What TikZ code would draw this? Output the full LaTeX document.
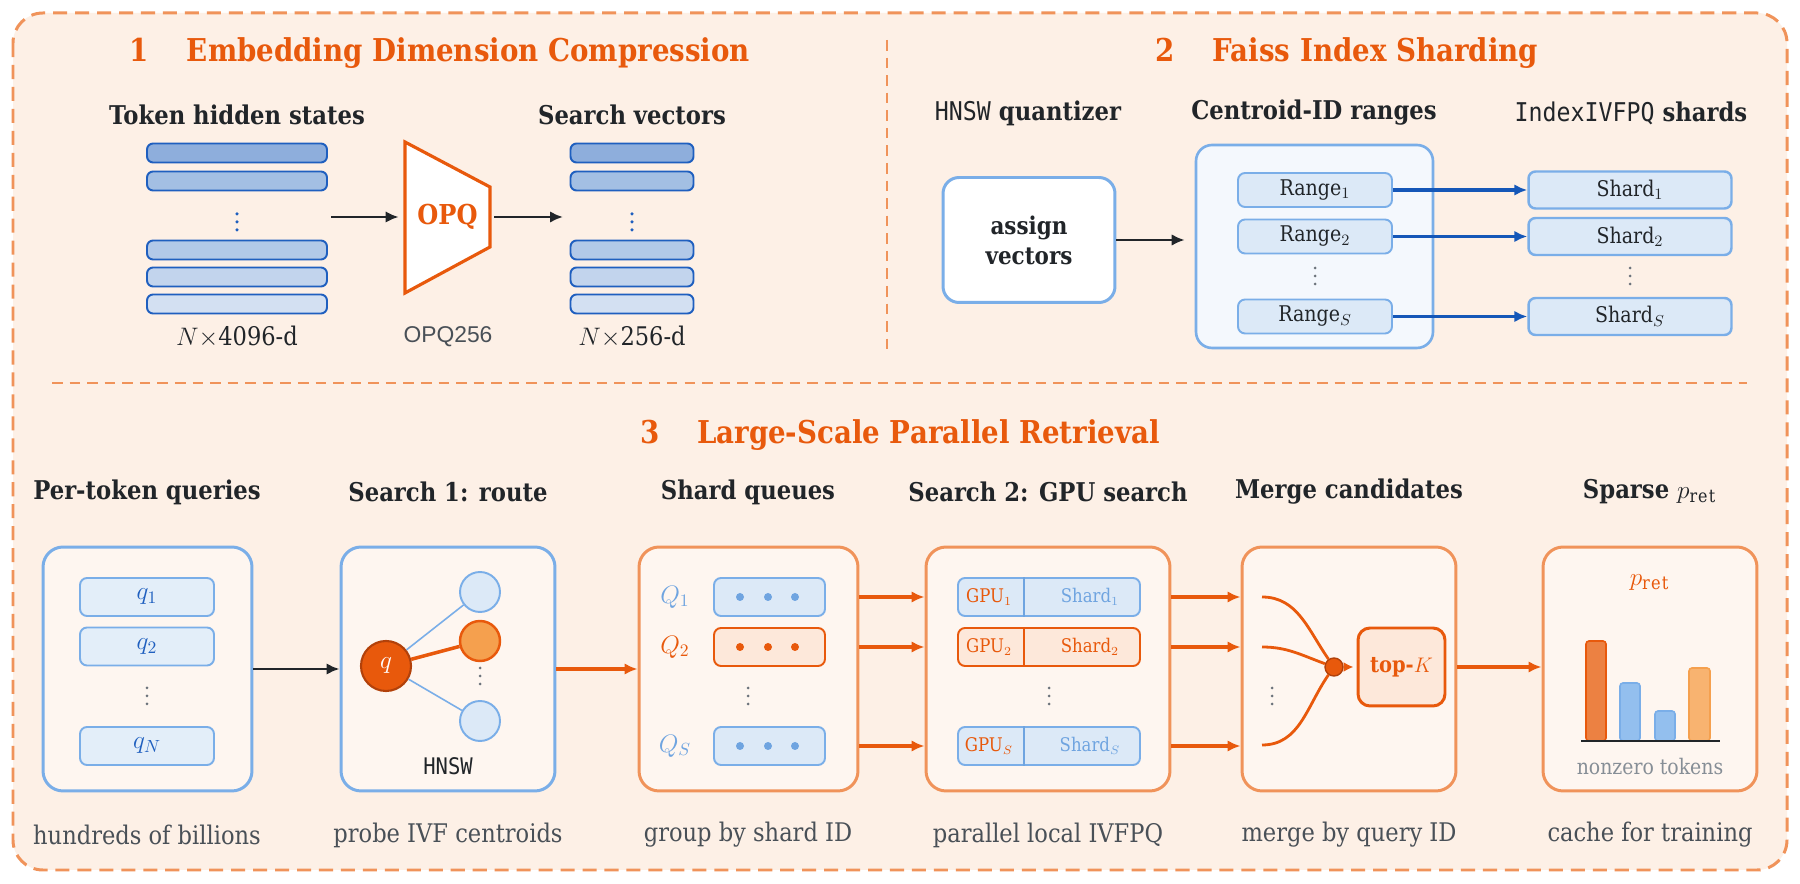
\documentclass[tikz,border=0pt]{standalone}
\usepackage{fontspec}
\setmainfont{DejaVu Serif}[FakeStretch=0.88]
\setsansfont{Liberation Sans}
\setmonofont{DejaVu Sans Mono}[FakeStretch=0.9]
\usepackage{xcolor}
\usepackage{tikz}
\usetikzlibrary{positioning, calc, fit, arrows.meta}

\definecolor{accent}{HTML}{E8590C}
\definecolor{peachedge}{HTML}{F0935A}
\definecolor{pagefill}{HTML}{FDF0E6}
\definecolor{panelfill}{HTML}{FEF6F0}
\definecolor{peachfill}{HTML}{FDE8DA}
\definecolor{ink}{HTML}{212529}
\definecolor{slate}{HTML}{495057}
\definecolor{mist}{HTML}{868E96}
\definecolor{dotgray}{HTML}{6C737B}
\definecolor{tokedge}{HTML}{1F5FBF}
\definecolor{tokA}{HTML}{8EAEDC}
\definecolor{tokB}{HTML}{A3BFE3}
\definecolor{tokC}{HTML}{B2C9E8}
\definecolor{tokD}{HTML}{C2D4ED}
\definecolor{tokE}{HTML}{D3E0F2}
\definecolor{skyedge}{HTML}{7AAEE8}
\definecolor{skyfill}{HTML}{DCE9F7}
\definecolor{qfill}{HTML}{E3EEF9}
\definecolor{skydot}{HTML}{6FA4E0}
\definecolor{deepblue}{HTML}{1557B8}
\definecolor{groupfill}{HTML}{F4F8FD}
\definecolor{embered}{HTML}{B2410A}
\definecolor{orangebar}{HTML}{EC8142}
\definecolor{bluebar}{HTML}{93BFEE}
\definecolor{sandbar}{HTML}{F8B370}
\definecolor{sandedge}{HTML}{F5A04E}

\begin{document}
\begin{tikzpicture}[
    x=0.02cm, y=-0.02cm,
    % Textos
    titletxt/.style={font=\fontsize{17.9}{21}\selectfont\bfseries, text=accent},
    headtxt/.style={font=\fontsize{14.7}{17}\selectfont\bfseries, text=ink},
    captxt/.style={font=\fontsize{14.6}{17}\selectfont, text=slate},
    smalltxt/.style={font=\fontsize{12.3}{14}\selectfont, text=ink},
    % Caixas
    tokbar/.style={rectangle, rounded corners=0.12cm, draw=tokedge, line width=1.1pt, minimum height=0.38cm, inner sep=0pt},
    panelB/.style={rectangle, rounded corners=0.4cm, draw=skyedge, line width=1.7pt, fill=panelfill, minimum width=4.28cm, minimum height=4.88cm},
    panelO/.style={panelB, draw=peachedge},
    slotB/.style={rectangle, rounded corners=0.14cm, draw=skyedge, line width=1.1pt, fill=skyfill, minimum height=0.76cm, inner sep=0pt},
    slotO/.style={slotB, draw=accent, fill=peachfill},
    centroid/.style={circle, draw=skyedge, line width=1.1pt, fill=skyfill, minimum size=0.8cm, inner sep=0pt},
    % Setas
    arrK/.style={-{Latex[length=0.26cm, width=0.23cm]}, line width=1.4pt, draw=ink},
    arrO/.style={-{Latex[length=0.26cm, width=0.23cm]}, line width=2.1pt, draw=accent},
    arrB/.style={-{Latex[length=0.26cm, width=0.23cm]}, line width=1.9pt, draw=deepblue},
    divline/.style={draw=peachedge, line width=1.1pt, dash pattern=on 6pt off 4pt}
]

% ==========================
% FUNDO E MOLDURA
% ==========================
\fill[white] (0,0) rectangle (1800,884);
\useasboundingbox (0,0) rectangle (1800,884);
\draw[fill=pagefill, draw=peachedge, line width=1.7pt, dash pattern=on 8pt off 4.5pt, rounded corners=0.6cm] (13,13) rectangle (1787,870);
\draw[divline] (887,40) -- (887,350);
\draw[divline] (52,383) -- (1747,383);

% ==========================
% 1: COMPRESSAO
% ==========================
\node[titletxt] (t1) at (440,53) {1\hspace{1.2em}Embedding Dimension Compression};
\node[headtxt] (hTok) at (237,115) {Token hidden states};
\node[headtxt] (hSv) at (632,115) {Search vectors};

\foreach \y/\c [count=\i] in {153/tokA, 181/tokB, 250/tokC, 277/tokD, 304/tokE} {
    \node[tokbar, fill=\c, minimum width=3.6cm] (hs\i) at (237,\y) {};
    \node[tokbar, fill=\c, minimum width=2.46cm] (sv\i) at (632,\y) {};
}
\foreach \y in {214,222,230} { \fill[tokedge] (237,\y) circle (0.035cm); \fill[tokedge] (632,\y) circle (0.035cm); }

\draw[accent, line width=1.8pt, fill=white, line join=miter] (405,142) -- (490,187) -- (490,247) -- (405,293) -- cycle;
\node[font=\fontsize{15.6}{18}\selectfont\bfseries, text=accent, minimum width=1.7cm] (opq) at (447.5,217) {OPQ};

\coordinate (hsOut) at (331,217);
\coordinate (svIn) at (563,217);
\draw[arrK, shorten >=0.12cm] (hsOut) -- (opq.west);
\draw[arrK, shorten <=0.08cm] (opq.east) -- (svIn);

\node[captxt, text=ink] (dimIn) at (237,337) {$N\times$4096-d};
\node[font=\sffamily\fontsize{13}{15}\selectfont, text=slate] (opqName) at (448,337) {OPQ256};
\node[captxt, text=ink] (dimOut) at (632,337) {$N\times$256-d};

% ==========================
% 2: SHARDING
% ==========================
\node[titletxt] (t2) at (1347,53) {2\hspace{1.2em}Faiss Index Sharding};
\node[headtxt] (hQz) at (1028,113) {{\mdseries\ttfamily HNSW} quantizer};
\node[headtxt] (hCr) at (1314,113) {Centroid-ID ranges};
\node[headtxt] (hSh) at (1631,113) {{\mdseries\ttfamily IndexIVFPQ} shards};

\node[rectangle, rounded corners=0.32cm, draw=skyedge, line width=1.7pt, fill=white, minimum width=3.44cm, minimum height=2.5cm, align=center, font=\fontsize{13.9}{17}\selectfont\bfseries, text=ink] (assign) at (1029,240) {assign\\vectors};
\node[rectangle, rounded corners=0.32cm, draw=skyedge, line width=1.5pt, fill=groupfill, minimum width=4.74cm, minimum height=4.06cm] (cents) at (1314.5,246.5) {};
\draw[arrK, shorten >=0.2cm] (assign.east) -- (assign.east -| cents.west);

\foreach \y/\s in {190/1, 236.5/2, 316.5/S} {
    \node[slotB, smalltxt, minimum width=3.08cm, minimum height=0.68cm] (rg\s) at (1315,\y) {Range$_{\s}$};
    \node[slotB, smalltxt, line width=1.4pt, minimum width=4.06cm, minimum height=0.74cm] (sh\s) at (1630,\y) {Shard$_{\s}$};
    \draw[arrB] (rg\s.east) -- (sh\s.west);
}
\foreach \y in {268,276,284} { \fill[dotgray] (1315,\y) circle (0.03cm); \fill[dotgray] (1630,\y) circle (0.03cm); }

% ==========================
% 3: RECUPERACAO PARALELA
% ==========================
\def\yHead{492}
\def\yBox{669}
\def\yCap{835}
\node[titletxt] (t3) at (900,435) {3\hspace{1.2em}Large-Scale Parallel Retrieval};

\node[headtxt] (hPq) at (147,\yHead) {Per-token queries};
\node[headtxt] (hS1) at (448,\yHead) {Search 1: route};
\node[headtxt] (hSq) at (748,\yHead) {Shard queues};
\node[headtxt] (hS2) at (1048,\yHead) {Search 2: GPU search};
\node[headtxt] (hMc) at (1349,\yHead) {Merge candidates};
\node[headtxt] (hSp) at (1650,\yHead) {Sparse $p_{\mathrm{ret}}$};

\node[panelB, minimum width=4.18cm] (b1) at (147.5,\yBox) {};
\node[panelB] (b2) at (448,\yBox) {};
\node[panelO, minimum width=4.38cm] (b3) at (748.5,\yBox) {};
\node[panelO, minimum width=4.88cm] (b4) at (1048,\yBox) {};
\node[panelO] (b5) at (1349,\yBox) {};
\node[panelO] (b6) at (1650,\yBox) {};

\node[captxt] (cPq) at (147,\yCap) {hundreds of billions};
\node[captxt] (cS1) at (448,\yCap) {probe IVF centroids};
\node[captxt] (cSq) at (748,\yCap) {group by shard ID};
\node[captxt] (cS2) at (1048,\yCap) {parallel local IVFPQ};
\node[captxt] (cMc) at (1349,\yCap) {merge by query ID};
\node[captxt] (cSp) at (1650,\yCap) {cache for training};

% Consultas
\foreach \y/\s in {597/1, 646.5/2, 746/N} {
    \node[slotB, fill=qfill, minimum width=2.68cm, text=tokedge, font=\fontsize{14}{16}\selectfont] (q\s) at (147,\y) {$q_{\s}$};
}
\foreach \y in {688,696,704} { \fill[dotgray] (147,\y) circle (0.03cm); }
\draw[arrK] (b1.east) -- (b2.west);

% HNSW
\node[circle, draw=embered, line width=1.2pt, fill=accent, minimum size=1cm, inner sep=0pt, text=white, font=\fontsize{15}{17}\selectfont] (qc) at (386,666) {$q$};
\node[centroid] (c1) at (480,592) {};
\node[centroid, fill=sandedge, draw=accent, line width=1.4pt] (c2) at (480,641) {};
\node[centroid] (c3) at (480,721) {};
\draw[skyedge, line width=0.9pt] (qc) -- (c1);
\draw[accent, line width=2pt] (qc) -- (c2);
\draw[skyedge, line width=0.9pt] (qc) -- (c3);
\foreach \y in {668,676,684} { \fill[dotgray] (480,\y) circle (0.03cm); }
\node[font=\ttfamily\fontsize{13}{15}\selectfont, text=ink] (hnswTag) at (448,766) {HNSW};
\draw[arrO] (b2.east) -- (b3.west);

% Filas por shard
\foreach \y/\s/\st/\tc in {597/1/slotB/skydot, 647/2/slotO/accent, 746/S/slotB/skydot} {
    \node[text=\tc, font=\fontsize{14}{16}\selectfont] (ql\s) at (675,\y) {$Q_{\s}$};
    \node[\st, minimum width=2.22cm] (qq\s) at (769.5,\y) {};
    \foreach \x in {740,768,795} { \fill[\tc] (\x,\y) circle (0.08cm); }
    \draw[arrO] (b3.east |- qq\s) -- (b4.west |- qq\s);
}
\foreach \y in {688,696,704} { \fill[dotgray] (748,\y) circle (0.03cm); }

% Busca em GPU
\foreach \y/\s/\st/\tc in {597/1/slotB/skydot, 647/2/slotO/accent, 746/S/slotB/skydot} {
    \node[\st, minimum width=3.64cm] (gp\s) at (1049,\y) {};
    \draw[\tc, line width=1.2pt] ([xshift=-0.5cm]gp\s.north) -- ([xshift=-0.5cm]gp\s.south);
    \node[text=accent, font=\fontsize{10.7}{12}\selectfont] (gl\s) at (989,\y) {GPU$_{\s}$};
    \node[text=\tc, font=\fontsize{10.7}{12}\selectfont] (sl\s) at (1090,\y) {Shard$_{\s}$};
    \draw[arrO] (b4.east |- gp\s) -- (b5.west |- gp\s);
}
\foreach \y in {688,696,704} { \fill[dotgray] (1049,\y) circle (0.03cm); }

% Fusao
\coordinate (m1) at (1262,597);
\coordinate (m2) at (1262,647);
\coordinate (m3) at (1262,745);
\node[circle, fill=accent, draw=embered, line width=0.8pt, minimum size=0.36cm, inner sep=0pt] (mdot) at (1334,667) {};
\draw[accent, line width=1.6pt] (m1) to[out=0, in=125] (mdot);
\draw[accent, line width=1.6pt] (m2) to[out=0, in=160] (mdot);
\draw[accent, line width=1.6pt] (m3) to[out=0, in=-125] (mdot);
\node[rectangle, rounded corners=0.24cm, draw=accent, line width=1.7pt, fill=peachfill, minimum width=1.74cm, minimum height=1.56cm, text=accent, font=\fontsize{12.6}{15}\selectfont\bfseries] (topk) at (1401.5,667) {top-$K$};
\draw[-{Latex[length=0.2cm, width=0.2cm]}, accent, line width=1.6pt, shorten >=0.06cm] (mdot) -- (topk.west);
\foreach \y in {688,696,704} { \fill[dotgray] (1272,\y) circle (0.03cm); }
\draw[arrO] (b5.east |- topk) -- (b6.west |- topk);

% Distribuicao esparsa
\node[text=accent, font=\fontsize{15}{17}\selectfont] (pretTag) at (1650,583) {$p_{\mathrm{ret}}$};
\draw[fill=orangebar, draw=accent, line width=0.9pt, rounded corners=0.06cm] (1586,741) rectangle (1606,641);
\draw[fill=bluebar, draw=skyedge, line width=0.9pt, rounded corners=0.06cm] (1620,741) rectangle (1640,683);
\draw[fill=bluebar, draw=skyedge, line width=0.9pt, rounded corners=0.06cm] (1655,741) rectangle (1675,711);
\draw[fill=sandbar, draw=sandedge, line width=0.9pt, rounded corners=0.06cm] (1689,741) rectangle (1710,668);
\draw[ink, line width=1.6pt] (1581,741) -- (1720,741);
\node[font=\fontsize{12.2}{14}\selectfont, text=mist] (nzTag) at (1650,767) {nonzero tokens};

\end{tikzpicture}
\end{document}
